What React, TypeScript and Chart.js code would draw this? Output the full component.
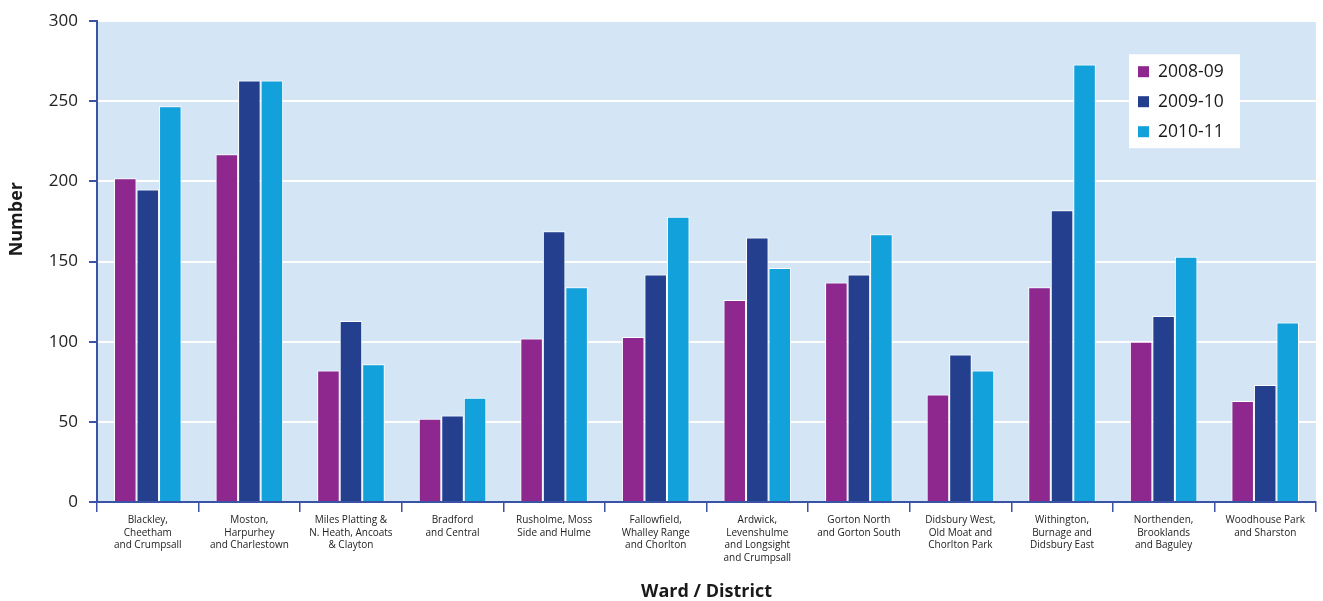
import React, { useEffect, useRef } from "react";
import { Chart, registerables } from "chart.js";

Chart.register(...registerables);

// Ward / district names, split into the lines shown under each group
const wards: string[][] = [
  ["Blackley,", "Cheetham", "and Crumpsall"],
  ["Moston,", "Harpurhey", "and Charlestown"],
  ["Miles Platting &", "N. Heath, Ancoats", "& Clayton"],
  ["Bradford", "and Central"],
  ["Rusholme, Moss", "Side and Hulme"],
  ["Fallowfield,", "Whalley Range", "and Chorlton"],
  ["Ardwick,", "Levenshulme", "and Longsight", "and Crumpsall"],
  ["Gorton North", "and Gorton South"],
  ["Didsbury West,", "Old Moat and", "Chorlton Park"],
  ["Withington,", "Burnage and", "Didsbury East"],
  ["Northenden,", "Brooklands", "and Baguley"],
  ["Woodhouse Park", "and Sharston"],
];

const seriesLabels = ["2008-09", "2009-10", "2010-11"];
const values0809 = [202, 217, 82, 52, 102, 103, 126, 137, 67, 134, 100, 63];
const values0910 = [195, 263, 113, 54, 169, 142, 165, 142, 92, 182, 116, 73];
const values1011 = [247, 263, 86, 65, 134, 178, 146, 167, 82, 273, 153, 112];

const seriesColors = ["#8E278E", "#243F8E", "#12A1DB"];

const yMin = 0;
const yMax = 300;
const yStep = 50;
const yTitle = "Number";
const xTitle = "Ward / District";

const FONT = '"Open Sans", "Noto Sans", sans-serif';
const AXIS_BLUE = "#3A53A4";

// Light blue fill behind the plotting area
const plotBackground = {
  id: "plotBackground",
  beforeDraw(chart: any) {
    const { ctx, chartArea } = chart;
    ctx.save();
    ctx.fillStyle = "#D4E6F5";
    ctx.fillRect(
      chartArea.left,
      chartArea.top,
      chartArea.right - chartArea.left,
      chartArea.bottom - chartArea.top
    );
    ctx.restore();
  },
};

// Rotated y-axis title, set somewhat above the middle of the axis
const yAxisTitle = {
  id: "yAxisTitle",
  afterDraw(chart: any) {
    const { ctx, chartArea } = chart;
    ctx.save();
    ctx.translate(17, chartArea.top + 198);
    ctx.rotate(-Math.PI / 2);
    ctx.font = `bold 18px ${FONT}`;
    ctx.fillStyle = "#1A1A1A";
    ctx.textAlign = "center";
    ctx.textBaseline = "middle";
    ctx.fillText(yTitle, 0, 0);
    ctx.restore();
  },
};

// Boxed legend floating in the upper right of the plot
const floatingLegend = {
  id: "floatingLegend",
  afterDraw(chart: any) {
    const { ctx, chartArea } = chart;
    const x = chartArea.right - 187;
    const y = chartArea.top + 33;
    const w = 111;
    const h = 94;
    ctx.save();
    ctx.fillStyle = "#FFFFFF";
    ctx.fillRect(x, y, w, h);
    ctx.font = `17.5px ${FONT}`;
    ctx.textBaseline = "middle";
    ctx.textAlign = "left";
    chart.data.datasets.forEach((ds: any, i: number) => {
      const cy = y + 17 + i * 30;
      ctx.fillStyle = ds.backgroundColor;
      ctx.fillRect(x + 9, cy - 5, 11, 11);
      ctx.fillStyle = "#1A1A1A";
      ctx.fillText(ds.label, x + 29, cy + 1);
    });
    ctx.restore();
  },
};

export default function App() {
  const canvasRef = useRef<HTMLCanvasElement | null>(null);

  useEffect(() => {
    const canvas = canvasRef.current;
    if (!canvas) return;
    const seriesValues = [values0809, values0910, values1011];

    const chart = new Chart(canvas, {
      type: "bar",
      data: {
        labels: wards,
        datasets: seriesLabels.map((label, i) => ({
          label,
          data: seriesValues[i],
          backgroundColor: seriesColors[i],
          borderColor: "#FFFFFF",
          borderWidth: 1,
          categoryPercentage: 0.665,
          barPercentage: 1,
        })),
      },
      options: {
        responsive: false,
        animation: false,
        layout: { padding: { left: 0, top: 19, right: 7, bottom: 0 } },
        plugins: {
          legend: { display: false },
          tooltip: { enabled: false },
        },
        scales: {
          x: {
            afterFit(scale: any) {
              scale.height = 99;
            },
            grid: {
              offset: true,
              drawOnChartArea: false,
              drawTicks: true,
              tickLength: 10,
              color: AXIS_BLUE,
              tickColor: AXIS_BLUE,
              lineWidth: 1.5,
            },
            border: { display: true, color: AXIS_BLUE, width: 2 },
            ticks: {
              autoSkip: false,
              maxRotation: 0,
              minRotation: 0,
              padding: 2,
              color: "#222222",
              font: { family: FONT, size: 10, lineHeight: 1.25 },
            },
            title: {
              display: true,
              text: xTitle,
              color: "#1A1A1A",
              font: { family: FONT, size: 18, weight: "bold", lineHeight: 1 },
              padding: { top: 0, bottom: 0 },
            },
          },
          y: {
            min: yMin,
            max: yMax,
            afterFit(scale: any) {
              scale.width = 97;
            },
            grid: {
              color: (c: any) =>
                c.tick && c.tick.value === yMin ? "rgba(0,0,0,0)" : "#FFFFFF",
              tickColor: AXIS_BLUE,
              lineWidth: 2,
              tickLength: 8,
              drawTicks: true,
            },
            border: { display: true, color: AXIS_BLUE, width: 2 },
            ticks: {
              stepSize: yStep,
              padding: 11,
              color: "#222222",
              font: { family: FONT, size: 17 },
            },
            title: { display: false },
          },
        },
      },
      plugins: [plotBackground, yAxisTitle, floatingLegend],
    });

    return () => chart.destroy();
  }, []);

  return (
    <div style={{ position: "absolute", left: 0, top: 0, width: 1323, height: 601, background: "#FFFFFF" }}>
      <canvas ref={canvasRef} width={1323} height={601} />
    </div>
  );
}
